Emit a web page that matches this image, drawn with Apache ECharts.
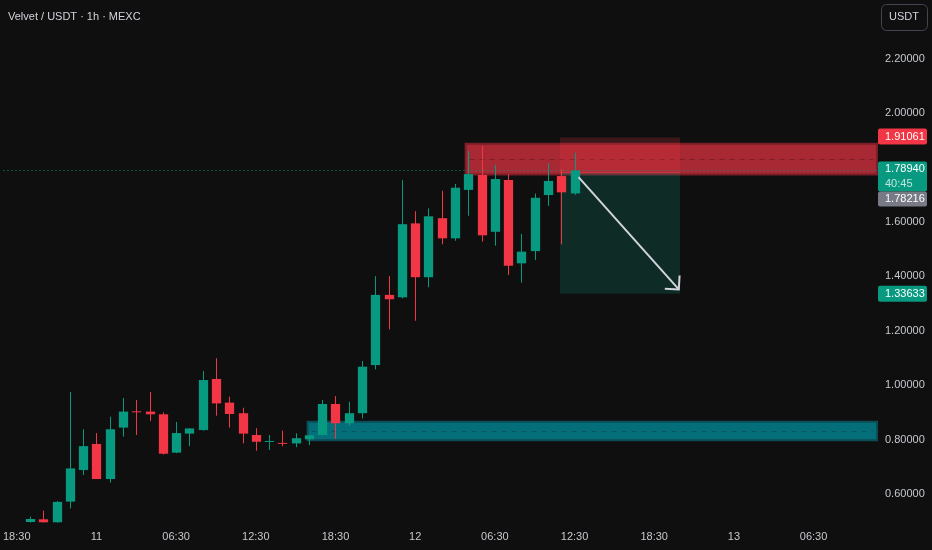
<!DOCTYPE html>
<html><head><meta charset="utf-8">
<script src="https://cdn.jsdelivr.net/npm/echarts@6/dist/echarts.min.js"></script>
<style>html,body{margin:0;padding:0;background:#0f0f0f;}#c{width:932px;height:550px;}</style>
</head><body><div id="c"></div>
<script>
// ---- data ----
const times = ['10 19:30','10 20:30','10 21:30','10 22:30','10 23:30','11 00:30','11 01:30','11 02:30','11 03:30','11 04:30',
  '11 05:30','11 06:30','11 07:30','11 08:30','11 09:30','11 10:30','11 11:30','11 12:30','11 13:30','11 14:30',
  '11 15:30','11 16:30','11 17:30','11 18:30','11 19:30','11 20:30','11 21:30','11 22:30','11 23:30','12 00:30',
  '12 01:30','12 02:30','12 03:30','12 04:30','12 05:30','12 06:30','12 07:30','12 08:30','12 09:30','12 10:30',
  '12 11:30','12 12:30'];
const opens  = [0.497,0.507,0.496,0.572,0.688,0.784,0.655,0.844,0.904,0.903,0.893,0.752,0.822,0.835,1.023,0.936,0.897,0.817,0.793,0.788,0.786,0.801,0.817,0.931,0.860,0.897,1.074,1.332,1.323,1.595,1.397,1.614,1.540,1.718,1.773,1.564,1.754,1.448,1.493,1.699,1.769,1.705];
const highs  = [0.517,0.539,0.574,0.975,0.838,0.824,0.884,0.953,0.946,0.975,0.900,0.865,0.842,1.052,1.099,0.958,0.917,0.842,0.817,0.833,0.823,0.818,0.946,0.960,0.939,1.089,1.401,1.401,1.754,1.640,1.650,1.715,1.740,1.861,1.880,1.810,1.776,1.556,1.705,1.816,1.794,1.855];
const lows   = [0.495,0.495,0.495,0.547,0.670,0.655,0.642,0.811,0.817,0.868,0.745,0.750,0.776,0.833,0.888,0.844,0.786,0.759,0.762,0.776,0.772,0.780,0.815,0.803,0.850,0.878,1.058,1.205,1.319,1.237,1.360,1.518,1.531,1.623,1.528,1.513,1.405,1.377,1.460,1.659,1.518,1.700];
const closes = [0.508,0.496,0.571,0.694,0.776,0.655,0.838,0.903,0.902,0.893,0.748,0.824,0.841,1.019,0.933,0.894,0.822,0.792,0.795,0.785,0.805,0.816,0.931,0.860,0.897,1.068,1.332,1.316,1.592,1.397,1.621,1.540,1.726,1.776,1.551,1.758,1.439,1.491,1.689,1.751,1.709,1.7894];
const xTickPos    = [0,6,12,18,24,30,36,42,48,54,60];
const xTickLabels = ['18:30','11','06:30','12:30','18:30','12','06:30','12:30','18:30','13','06:30'];
const yTicks = [0.6,0.8,1.0,1.2,1.4,1.6,1.8,2.0,2.2];
const supplyZone = [33.8, 1.888, 1.775];   // start slot, top price, bottom price
const demandZone = [21.9, 0.866, 0.798];
const positionSlots = [40.9, 49.95];
const stopPrice = 1.91061, entryPrice = 1.78216, targetPrice = 1.33633;
const lastPrice = 1.78940, countdown = '40:45';
const arrowFrom = [42.3, 1.765], arrowTo = [49.85, 1.352];

// ---- chart ----
const X_MIN = -1, X_MAX = 64.775;
const UP = '#089981', DOWN = '#f23645';
const FONT = '"Liberation Sans", Arial, sans-serif';
const candleData = times.map((t, i) => [i + 1, opens[i], closes[i], lows[i], highs[i]]);

function renderCandle(params, api) {
  const x = api.value(0), o = api.value(1), c = api.value(2), l = api.value(3), h = api.value(4);
  const col = c >= o ? UP : DOWN;
  const pO = api.coord([x, o]), pC = api.coord([x, c]), pH = api.coord([x, h]), pL = api.coord([x, l]);
  const bw = api.size([1, 0])[0] * 0.7;
  const cx = Math.round(pO[0]) + 0.5;
  const top = Math.min(pO[1], pC[1]), bot = Math.max(pO[1], pC[1]);
  return { type: 'group', children: [
    { type: 'line', shape: { x1: cx, y1: pH[1], x2: cx, y2: pL[1] }, style: { stroke: col, lineWidth: 1 } },
    { type: 'rect', shape: { x: cx - bw / 2, y: top, width: bw, height: Math.max(1, bot - top) }, style: { fill: col } }
  ]};
}
function zoneRenderer(fill, border, dash) {
  return function (params, api) {
    const p0 = api.coord([api.value(0), api.value(1)]);
    const p1 = api.coord([X_MAX, api.value(2)]);
    const mid = api.coord([0, (api.value(1) + api.value(2)) / 2])[1];
    return { type: 'group', children: [
      { type: 'rect', shape: { x: p0[0], y: p0[1], width: p1[0] - p0[0], height: p1[1] - p0[1] }, style: { fill: fill, stroke: border, lineWidth: 2 } },
      { type: 'line', shape: { x1: p0[0] + 4, y1: Math.round(mid) + 0.5, x2: p1[0] - 4, y2: Math.round(mid) + 0.5 }, style: { stroke: dash, lineWidth: 1, lineDash: [5, 5] } }
    ]};
  };
}
function renderPosition(params, api) {
  const a = api.coord([positionSlots[0], stopPrice]);
  const e = api.coord([positionSlots[1], entryPrice]);
  const t = api.coord([positionSlots[1], targetPrice]);
  return { type: 'group', children: [
    { type: 'rect', shape: { x: a[0], y: a[1], width: e[0] - a[0], height: e[1] - a[1] }, style: { fill: 'rgba(242,54,69,0.2)' } },
    { type: 'rect', shape: { x: a[0], y: e[1], width: e[0] - a[0], height: t[1] - e[1] }, style: { fill: 'rgba(8,153,129,0.2)' } },
    { type: 'line', shape: { x1: a[0], y1: e[1], x2: e[0], y2: e[1] }, style: { stroke: 'rgba(242,54,69,0.6)', lineWidth: 1 } }
  ]};
}
function renderOverlay(params, api) {
  const l0 = api.coord([X_MIN, lastPrice]), l1 = api.coord([X_MAX, lastPrice]);
  const s = api.coord(arrowFrom), e = api.coord(arrowTo);
  const ang = Math.atan2(s[1] - e[1], s[0] - e[0]);
  const L = 14, k = Math.PI / 4;
  const y = Math.round(l0[1]) + 0.5;
  return { type: 'group', children: [
    { type: 'line', shape: { x1: l0[0], y1: y, x2: l1[0], y2: y }, style: { stroke: UP, lineWidth: 1, lineDash: [1, 3] } },
    { type: 'line', shape: { x1: s[0], y1: s[1], x2: e[0], y2: e[1] }, style: { stroke: '#d1d4dc', lineWidth: 2 } },
    { type: 'polyline', shape: { points: [
        [e[0] + L * Math.cos(ang - k), e[1] + L * Math.sin(ang - k)], [e[0], e[1]],
        [e[0] + L * Math.cos(ang + k), e[1] + L * Math.sin(ang + k)] ] },
      style: { stroke: '#d1d4dc', lineWidth: 2, fill: null } }
  ]};
}
function tag(x, y, h, w, bg, lines) {
  const out = [{ type: 'rect', shape: { x: x, y: y, width: w, height: h, r: 2 }, style: { fill: bg } }];
  lines.forEach(ln => out.push({ type: 'text', style: { text: ln.t, x: x + 7, y: ln.y, fill: ln.c, fontSize: 11, fontFamily: FONT, align: 'left', verticalAlign: 'middle' } }));
  return out;
}
function renderTags(params, api) {
  const bx = api.coord([X_MAX, 1])[0] + 1, bw = 49;
  const yS = api.coord([0, stopPrice])[1];
  const yL = api.coord([0, lastPrice])[1];
  const yT = api.coord([0, targetPrice])[1];
  let ch = [];
  ch = ch.concat(tag(bx, yS - 9, 16, bw, DOWN, [{ t: stopPrice.toFixed(5), y: yS - 0.5, c: '#ffffff' }]));
  ch = ch.concat(tag(bx, yL - 9, 30, bw, UP, [{ t: lastPrice.toFixed(5), y: yL - 1.5, c: '#ffffff' }, { t: countdown, y: yL + 13, c: 'rgba(255,255,255,0.75)' }]));
  ch = ch.concat(tag(bx, yL + 21, 15, bw, '#787b86', [{ t: entryPrice.toFixed(5), y: yL + 28.5, c: '#ffffff' }]));
  ch = ch.concat(tag(bx, yT - 8, 16, bw, UP, [{ t: targetPrice.toFixed(5), y: yT, c: '#ffffff' }]));
  return { type: 'group', children: ch };
}

const chart = echarts.init(document.getElementById('c'), null, { renderer: 'canvas' });
chart.setOption({
  backgroundColor: '#0f0f0f',
  animation: false,
  grid: { left: 0, right: 55, top: 0, bottom: 25 },
  xAxis: {
    type: 'value', min: X_MIN, max: X_MAX,
    axisLine: { show: false }, axisTick: { show: false }, splitLine: { show: false },
    axisLabel: { customValues: xTickPos, color: '#c5c8ce', fontSize: 11, fontFamily: FONT, margin: 6,
      formatter: v => { const i = xTickPos.indexOf(Math.round(v)); return i >= 0 ? xTickLabels[i] : ''; } }
  },
  yAxis: {
    type: 'value', position: 'right', min: 0.486, max: 2.4162,
    axisLine: { show: false }, axisTick: { show: false }, splitLine: { show: false },
    axisLabel: { customValues: yTicks, color: '#c5c8ce', fontSize: 11, fontFamily: FONT, margin: 8,
      formatter: v => v.toFixed(5) }
  },
  graphic: [
    { type: 'text', left: 8, top: 11, style: { text: 'Velvet / USDT · 1h · MEXC', fill: '#d1d4dc', fontSize: 11, fontFamily: FONT } },
    { type: 'rect', left: 881, top: 4, shape: { width: 46, height: 26, r: 5 }, style: { fill: 'transparent', stroke: '#434651', lineWidth: 1 } },
    { type: 'text', left: 889, top: 11, style: { text: 'USDT', fill: '#d1d4dc', fontSize: 11, fontFamily: FONT } }
  ],
  series: [
    { type: 'custom', name: 'demand', z: 1, clip: true, renderItem: zoneRenderer('rgba(0,151,167,0.7)', '#0a4d56', '#0a5560'), data: [demandZone] },
    { type: 'custom', name: 'supply', z: 1, clip: true, renderItem: zoneRenderer('rgba(242,54,69,0.68)', '#7a1e28', '#7d1f29'), data: [supplyZone] },
    { type: 'custom', name: 'position', z: 2, clip: true, renderItem: renderPosition, data: [[0]] },
    { type: 'custom', name: 'candles', z: 3, clip: true, renderItem: renderCandle, data: candleData },
    { type: 'custom', name: 'overlay', z: 4, clip: true, renderItem: renderOverlay, data: [[0]] },
    { type: 'custom', name: 'tags', z: 10, clip: false, renderItem: renderTags, data: [[0]] }
  ]
});
</script>
</body></html>
